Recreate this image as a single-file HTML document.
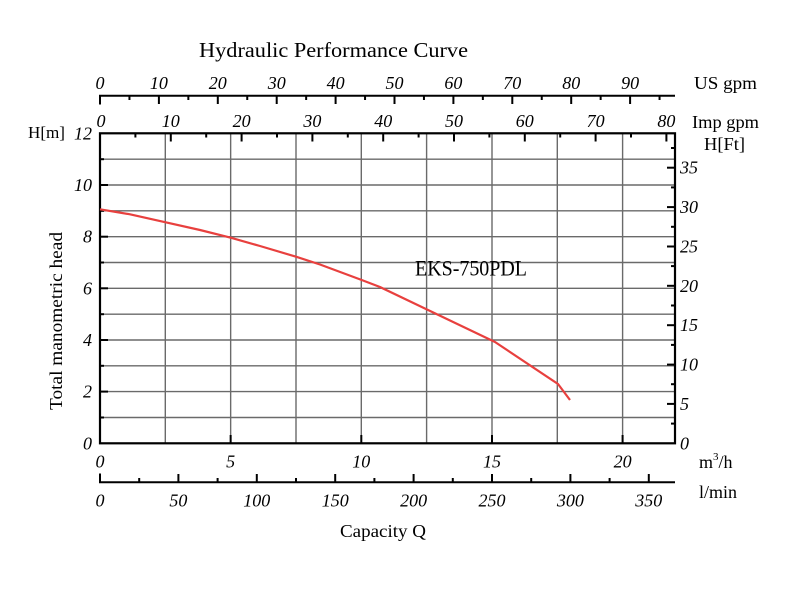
<!DOCTYPE html>
<html><head><meta charset="utf-8"><style>
html,body{margin:0;padding:0;background:#fff;}
svg{display:block;}
text{font-family:"Liberation Serif",serif;fill:#000;}
.it{font-style:italic;font-size:18px;}
.lb{font-size:18px;}
</style></head><body>
<svg width="800" height="594" viewBox="0 0 800 594" xmlns="http://www.w3.org/2000/svg">
<rect width="800" height="594" fill="#fff"/>
<!-- Title -->
<text x="199" y="57" font-size="21" textLength="269" lengthAdjust="spacingAndGlyphs">Hydraulic Performance Curve</text>

<!-- Grid -->
<g stroke="#6a6a6a" stroke-width="1.4">
<line x1="165.3" y1="133.3" x2="165.3" y2="443.3"/>
<line x1="230.65" y1="133.3" x2="230.65" y2="443.3"/>
<line x1="296" y1="133.3" x2="296" y2="443.3"/>
<line x1="361.3" y1="133.3" x2="361.3" y2="443.3"/>
<line x1="426.6" y1="133.3" x2="426.6" y2="443.3"/>
<line x1="492" y1="133.3" x2="492" y2="443.3"/>
<line x1="557.3" y1="133.3" x2="557.3" y2="443.3"/>
<line x1="622.6" y1="133.3" x2="622.6" y2="443.3"/>
<line x1="100" y1="417.5" x2="675" y2="417.5"/>
<line x1="100" y1="391.6" x2="675" y2="391.6"/>
<line x1="100" y1="365.8" x2="675" y2="365.8"/>
<line x1="100" y1="340" x2="675" y2="340"/>
<line x1="100" y1="314.2" x2="675" y2="314.2"/>
<line x1="100" y1="288.3" x2="675" y2="288.3"/>
<line x1="100" y1="262.5" x2="675" y2="262.5"/>
<line x1="100" y1="236.7" x2="675" y2="236.7"/>
<line x1="100" y1="210.8" x2="675" y2="210.8"/>
<line x1="100" y1="185" x2="675" y2="185"/>
<line x1="100" y1="159.2" x2="675" y2="159.2"/>
</g>

<!-- Frame -->
<rect x="100" y="133.3" width="575" height="310" fill="none" stroke="#000" stroke-width="2.2"/>

<!-- Ticks -->
<g stroke="#000" stroke-width="2">
<line x1="100" y1="417.5" x2="104" y2="417.5"/>
<line x1="100" y1="391.6" x2="108" y2="391.6"/>
<line x1="100" y1="365.8" x2="104" y2="365.8"/>
<line x1="100" y1="340" x2="108" y2="340"/>
<line x1="100" y1="314.2" x2="104" y2="314.2"/>
<line x1="100" y1="288.3" x2="108" y2="288.3"/>
<line x1="100" y1="262.5" x2="104" y2="262.5"/>
<line x1="100" y1="236.7" x2="108" y2="236.7"/>
<line x1="100" y1="210.8" x2="104" y2="210.8"/>
<line x1="100" y1="185" x2="108" y2="185"/>
<line x1="100" y1="159.2" x2="104" y2="159.2"/>
<line x1="675" y1="423.6" x2="671" y2="423.6"/>
<line x1="675" y1="403.9" x2="667" y2="403.9"/>
<line x1="675" y1="384.2" x2="671" y2="384.2"/>
<line x1="675" y1="364.6" x2="667" y2="364.6"/>
<line x1="675" y1="344.9" x2="671" y2="344.9"/>
<line x1="675" y1="325.2" x2="667" y2="325.2"/>
<line x1="675" y1="305.5" x2="671" y2="305.5"/>
<line x1="675" y1="285.8" x2="667" y2="285.8"/>
<line x1="675" y1="266.1" x2="671" y2="266.1"/>
<line x1="675" y1="246.5" x2="667" y2="246.5"/>
<line x1="675" y1="226.8" x2="671" y2="226.8"/>
<line x1="675" y1="207.1" x2="667" y2="207.1"/>
<line x1="675" y1="187.4" x2="671" y2="187.4"/>
<line x1="675" y1="167.7" x2="667" y2="167.7"/>
<line x1="675" y1="148" x2="671" y2="148"/>
<line x1="230.65" y1="443.3" x2="230.65" y2="435"/>
<line x1="361.3" y1="443.3" x2="361.3" y2="435"/>
<line x1="492" y1="443.3" x2="492" y2="435"/>
<line x1="622.6" y1="443.3" x2="622.6" y2="435"/>
<line x1="135.4" y1="133.3" x2="135.4" y2="137.5"/>
<line x1="170.8" y1="133.3" x2="170.8" y2="141.5"/>
<line x1="206.2" y1="133.3" x2="206.2" y2="137.5"/>
<line x1="241.6" y1="133.3" x2="241.6" y2="141.5"/>
<line x1="277" y1="133.3" x2="277" y2="137.5"/>
<line x1="312.4" y1="133.3" x2="312.4" y2="141.5"/>
<line x1="347.8" y1="133.3" x2="347.8" y2="137.5"/>
<line x1="383.2" y1="133.3" x2="383.2" y2="141.5"/>
<line x1="418.6" y1="133.3" x2="418.6" y2="137.5"/>
<line x1="454" y1="133.3" x2="454" y2="141.5"/>
<line x1="489.4" y1="133.3" x2="489.4" y2="137.5"/>
<line x1="524.8" y1="133.3" x2="524.8" y2="141.5"/>
<line x1="560.2" y1="133.3" x2="560.2" y2="137.5"/>
<line x1="595.6" y1="133.3" x2="595.6" y2="141.5"/>
<line x1="631" y1="133.3" x2="631" y2="137.5"/>
<line x1="666.4" y1="133.3" x2="666.4" y2="141.5"/>
</g>

<!-- US gpm axis -->
<g stroke="#000" stroke-width="2">
<line x1="99" y1="95.7" x2="675" y2="95.7"/>
<line x1="100" y1="95.7" x2="100" y2="104.5"/>
<line x1="129.45" y1="95.7" x2="129.45" y2="100"/>
<line x1="158.9" y1="95.7" x2="158.9" y2="104"/>
<line x1="188.35" y1="95.7" x2="188.35" y2="100"/>
<line x1="217.8" y1="95.7" x2="217.8" y2="104"/>
<line x1="247.25" y1="95.7" x2="247.25" y2="100"/>
<line x1="276.7" y1="95.7" x2="276.7" y2="104"/>
<line x1="306.15" y1="95.7" x2="306.15" y2="100"/>
<line x1="335.6" y1="95.7" x2="335.6" y2="104"/>
<line x1="365.05" y1="95.7" x2="365.05" y2="100"/>
<line x1="394.5" y1="95.7" x2="394.5" y2="104"/>
<line x1="423.95" y1="95.7" x2="423.95" y2="100"/>
<line x1="453.4" y1="95.7" x2="453.4" y2="104"/>
<line x1="482.85" y1="95.7" x2="482.85" y2="100"/>
<line x1="512.3" y1="95.7" x2="512.3" y2="104"/>
<line x1="541.75" y1="95.7" x2="541.75" y2="100"/>
<line x1="571.2" y1="95.7" x2="571.2" y2="104"/>
<line x1="600.65" y1="95.7" x2="600.65" y2="100"/>
<line x1="630.1" y1="95.7" x2="630.1" y2="104"/>
<line x1="659.55" y1="95.7" x2="659.55" y2="100"/>
</g>

<!-- l/min axis -->
<g stroke="#000" stroke-width="2">
<line x1="99" y1="482.3" x2="675" y2="482.3"/>
<line x1="100" y1="482.3" x2="100" y2="473.5"/>
<line x1="139.2" y1="482.3" x2="139.2" y2="478"/>
<line x1="178.4" y1="482.3" x2="178.4" y2="474"/>
<line x1="217.6" y1="482.3" x2="217.6" y2="478"/>
<line x1="256.8" y1="482.3" x2="256.8" y2="474"/>
<line x1="296" y1="482.3" x2="296" y2="478"/>
<line x1="335.2" y1="482.3" x2="335.2" y2="474"/>
<line x1="374.4" y1="482.3" x2="374.4" y2="478"/>
<line x1="413.6" y1="482.3" x2="413.6" y2="474"/>
<line x1="452.8" y1="482.3" x2="452.8" y2="478"/>
<line x1="492" y1="482.3" x2="492" y2="474"/>
<line x1="531.2" y1="482.3" x2="531.2" y2="478"/>
<line x1="570.4" y1="482.3" x2="570.4" y2="474"/>
<line x1="609.6" y1="482.3" x2="609.6" y2="478"/>
<line x1="648.8" y1="482.3" x2="648.8" y2="474"/>
</g>

<!-- Curve -->
<polyline fill="none" stroke="#e8403e" stroke-width="2.2" stroke-linejoin="round"
points="100,209.3 130,214.3 165.7,222.3 200,230 230.7,237.7 260,246 296,256.7 320,264.5 361.7,280 380,287 427,309.5 495,342 558,384 570,400"/>

<!-- US gpm labels -->
<g class="it" text-anchor="middle">
<text x="100" y="89">0</text>
<text x="158.9" y="89">10</text>
<text x="217.8" y="89">20</text>
<text x="276.7" y="89">30</text>
<text x="335.6" y="89">40</text>
<text x="394.5" y="89">50</text>
<text x="453.4" y="89">60</text>
<text x="512.3" y="89">70</text>
<text x="571.2" y="89">80</text>
<text x="630.1" y="89">90</text>
</g>
<text class="lb" x="694" y="89" textLength="63" lengthAdjust="spacingAndGlyphs">US gpm</text>

<!-- Imp gpm labels -->
<g class="it" text-anchor="middle">
<text x="101" y="127">0</text>
<text x="170.8" y="127">10</text>
<text x="241.6" y="127">20</text>
<text x="312.4" y="127">30</text>
<text x="383.2" y="127">40</text>
<text x="454" y="127">50</text>
<text x="524.8" y="127">60</text>
<text x="595.6" y="127">70</text>
<text x="666.4" y="127">80</text>
</g>
<text class="lb" x="692" y="128" textLength="67" lengthAdjust="spacingAndGlyphs">Imp gpm</text>
<text class="lb" x="704" y="150" textLength="41" lengthAdjust="spacingAndGlyphs">H[Ft]</text>

<!-- Left labels -->
<text x="28" y="138" font-size="17" textLength="37" lengthAdjust="spacingAndGlyphs">H[m]</text>
<g class="it" text-anchor="end">
<text x="92" y="139.5">12</text>
<text x="92" y="191">10</text>
<text x="92" y="242.7">8</text>
<text x="92" y="294.3">6</text>
<text x="92" y="346">4</text>
<text x="92" y="397.6">2</text>
<text x="92" y="449.3">0</text>
</g>
<text transform="translate(62,321) rotate(-90)" text-anchor="middle" font-size="18" textLength="178" lengthAdjust="spacingAndGlyphs">Total manometric head</text>

<!-- Right labels -->
<g class="it">
<text x="680" y="449.3">0</text>
<text x="680" y="409.9">5</text>
<text x="680" y="370.6">10</text>
<text x="680" y="331.2">15</text>
<text x="680" y="291.8">20</text>
<text x="680" y="252.5">25</text>
<text x="680" y="213.1">30</text>
<text x="680" y="173.7">35</text>
</g>

<!-- m3/h labels -->
<g class="it" text-anchor="middle">
<text x="100" y="467.5">0</text>
<text x="230.65" y="467.5">5</text>
<text x="361.3" y="467.5">10</text>
<text x="492" y="467.5">15</text>
<text x="622.6" y="467.5">20</text>
</g>
<text class="lb" x="699" y="468">m<tspan font-size="11" dy="-8">3</tspan><tspan dy="8">/h</tspan></text>

<!-- l/min labels -->
<g class="it" text-anchor="middle">
<text x="100" y="506.5">0</text>
<text x="178.4" y="506.5">50</text>
<text x="256.8" y="506.5">100</text>
<text x="335.2" y="506.5">150</text>
<text x="413.6" y="506.5">200</text>
<text x="492" y="506.5">250</text>
<text x="570.4" y="506.5">300</text>
<text x="648.8" y="506.5">350</text>
</g>
<text class="lb" x="699" y="498" textLength="38" lengthAdjust="spacingAndGlyphs">l/min</text>

<text class="lb" x="340" y="537" textLength="86" lengthAdjust="spacingAndGlyphs">Capacity Q</text>

<!-- Model label -->
<text x="415" y="275.5" font-size="22" textLength="112" lengthAdjust="spacingAndGlyphs">EKS-750PDL</text>
</svg>
</body></html>
